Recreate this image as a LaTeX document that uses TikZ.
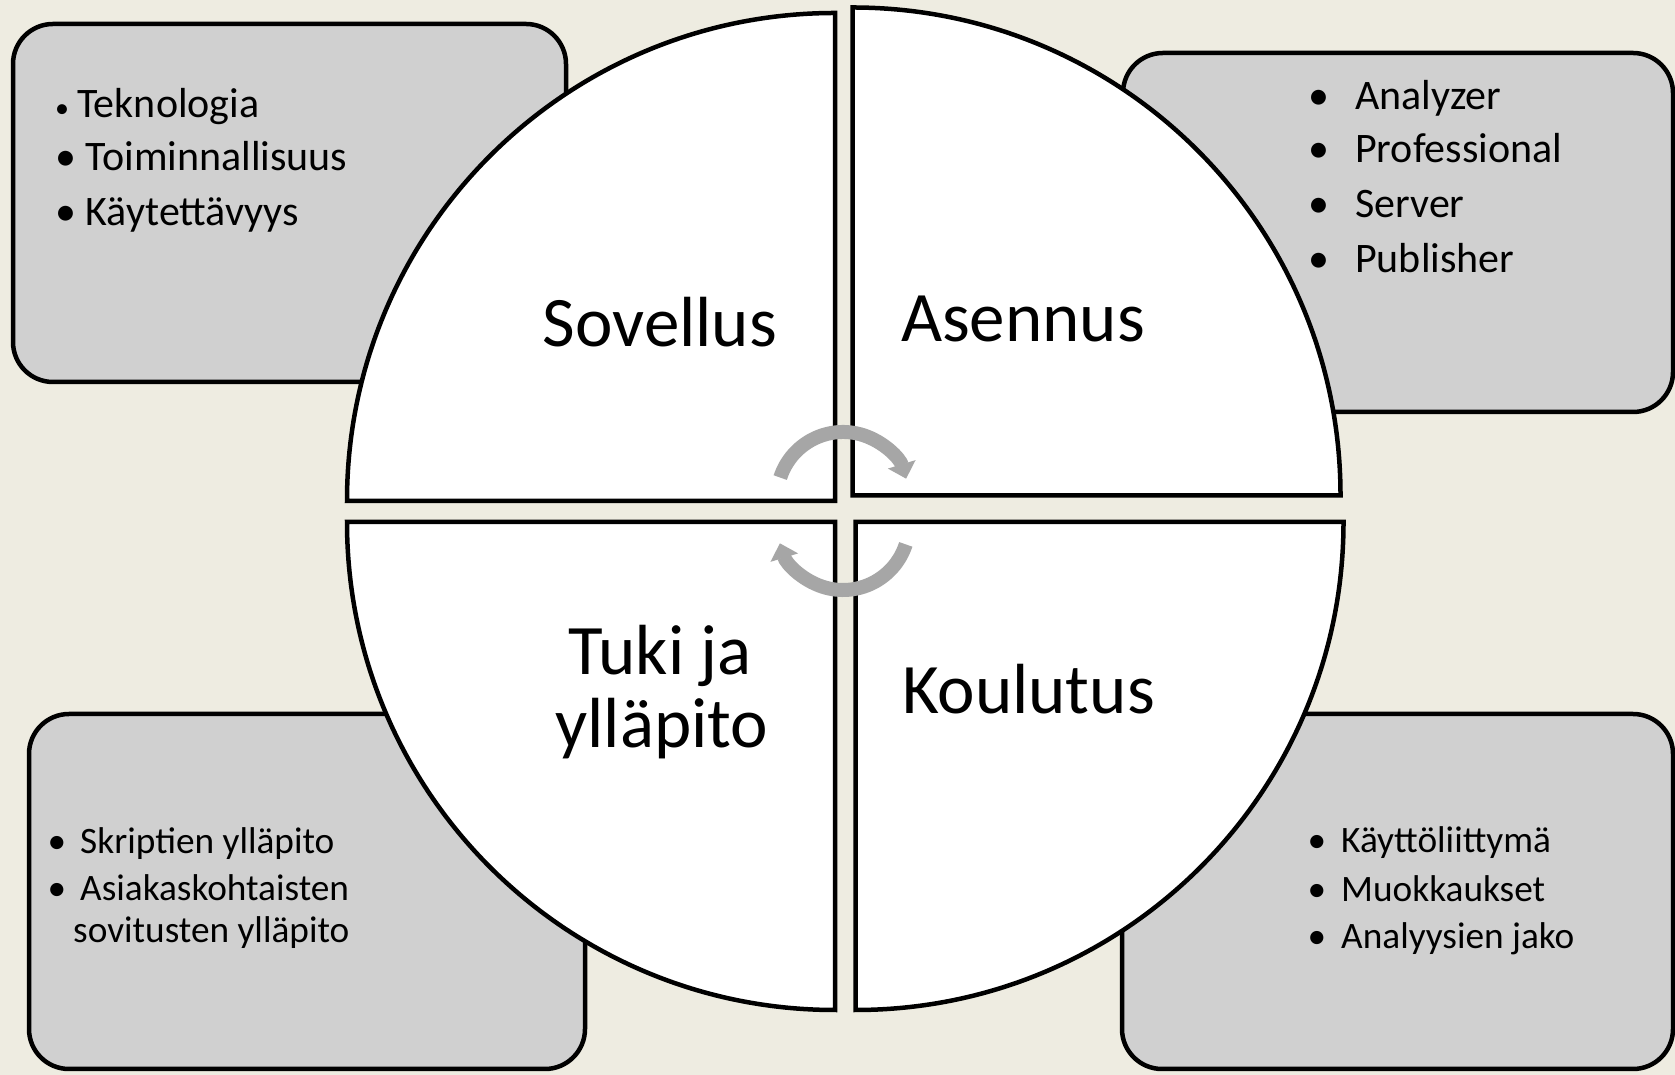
\documentclass[tikz,border=0pt]{standalone}
\usepackage{fontspec}
\setmainfont{Carlito}
\usetikzlibrary{arrows.meta}
\definecolor{bg}{RGB}{238,236,225}
\definecolor{boxfill}{RGB}{208,208,208}
\definecolor{arrowgray}{RGB}{166,166,166}
\begin{document}
\begin{tikzpicture}[x=1pt,y=1pt,
  infobox/.style={draw=black,line width=4.5pt,fill=boxfill,rounded corners=40pt},
  quarter/.style={draw=black,line width=4.5pt,fill=white,line join=miter},
  cyc/.style={draw=arrowgray,line width=14pt,-{Triangle[length=15pt,width=28pt]}},
  big/.style={font=\fontsize{71}{75}\selectfont,inner sep=0pt,anchor=base},
  itemtop/.style={font=\fontsize{42}{48}\selectfont,inner sep=0pt,anchor=base west},
  bultop/.style={font=\fontsize{42}{48}\selectfont,inner sep=0pt,anchor=base},
  itembot/.style={font=\fontsize{37.3}{44}\selectfont,inner sep=0pt,anchor=base west},
  bulbot/.style={font=\fontsize{37.3}{44}\selectfont,inner sep=0pt,anchor=base},
]
\fill[bg] (0,0) rectangle (1675,1075);
\useasboundingbox (0,0) rectangle (1675,1075);

% info boxes
\path[infobox] (13,693) rectangle (566,1051);
\path[infobox] (1123,663) rectangle (1673,1022);
\path[infobox] (29,6) rectangle (585,361);
\path[infobox] (1122,6) rectangle (1673,361);

% box texts: top left
\node[bultop,font=\fontsize{28}{30}\selectfont] (b1) at (62,957.5) {•};
\node[itemtop] (t1) at (77,957.5) {Teknologia};
\node[bultop] (b2) at (66,904) {•};
\node[itemtop] (t2) at (85.5,904) {Toiminnallisuus};
\node[bultop] (b3) at (66,849) {•};
\node[itemtop] (t3) at (85.5,849) {Käytettävyys};

% top right
\node[bultop] (b4) at (1319,965) {•};
\node[itemtop] (t4) at (1355,965) {Analyzer};
\node[bultop] (b5) at (1319,912) {•};
\node[itemtop] (t5) at (1355,912) {Professional};
\node[bultop] (b6) at (1319,857) {•};
\node[itemtop] (t6) at (1355,857) {Server};
\node[bultop] (b7) at (1319,802) {•};
\node[itemtop] (t7) at (1355,802) {Publisher};

% bottom left
\node[bulbot] (b8) at (57,221) {•};
\node[itembot] (t8) at (80,221) {Skriptien ylläpito};
\node[bulbot] (b9) at (57,174) {•};
\node[itembot] (t9) at (80,174) {Asiakaskohtaisten};
\node[itembot] (t10) at (73,132) {sovitusten ylläpito};

% bottom right
\node[bulbot] (b11) at (1317,222) {•};
\node[itembot] (t11) at (1341,222) {Käyttöliittymä};
\node[bulbot] (b12) at (1317,173) {•};
\node[itembot] (t12) at (1341,173) {Muokkaukset};
\node[bulbot] (b13) at (1317,126) {•};
\node[itembot] (t13) at (1341,126) {Analyysien jako};

% circle quarters
\path[quarter] (835,574) -- ++(-488,0) arc[start angle=180,end angle=90,radius=488] -- cycle;
\path[quarter] (852.5,579.5) -- ++(0,488) arc[start angle=90,end angle=0,radius=488] -- cycle;
\path[quarter] (835,553) -- ++(-488,0) arc[start angle=180,end angle=270,radius=488] -- cycle;
\path[quarter] (855.5,553) -- ++(488,0) arc[start angle=0,end angle=-90,radius=488] -- cycle;

% quarter labels
\node[big] (sov) at (660,728) {Sovellus};
\node[big] (ase) at (1023,733) {Asennus};
\node[big] (tuk) at (660,400) {Tuki ja};
\node[big] (yll) at (662,327) {ylläpito};
\node[big] (kou) at (1028.5,361.5) {Koulutus};

% circular arrows
\coordinate (cu) at (843,577);
\coordinate (cl) at (843,551);
\draw[cyc] (cu) ++(162:66) arc[start angle=162,end angle=17,radius=66];
\draw[cyc] (cl) ++(-18:66) arc[start angle=-18,end angle=-163,radius=66];
\end{tikzpicture}
\end{document}
